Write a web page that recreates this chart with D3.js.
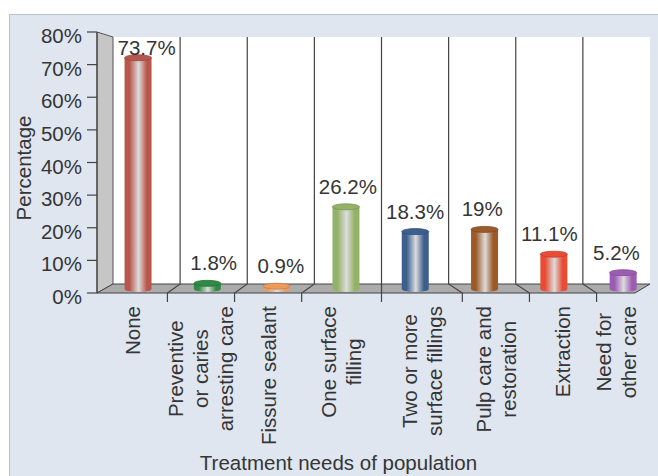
<!DOCTYPE html>
<html><head><meta charset="utf-8">
<script src="https://cdn.jsdelivr.net/npm/d3@7"></script>
<style>
html,body{margin:0;padding:0;background:#fff;}
svg{display:block;font-family:"Liberation Sans",Arial,Helvetica,sans-serif;}
</style></head>
<body><svg id="c" width="658" height="476"></svg>
<script>
const categories = ["None","Preventive or caries arresting care","Fissure sealant","One surface filling","Two or more surface fillings","Pulp care and restoration","Extraction","Need for other care"];
const labelLines = [["None"],["Preventive","or caries","arresting care"],["Fissure sealant"],["One surface","filling"],["Two or more","surface fillings"],["Pulp care and","restoration"],["Extraction"],["Need for","other care"]];
const values = [73.7, 1.8, 0.9, 26.2, 18.3, 19, 11.1, 5.2];
const valueLabels = ["73.7%","1.8%","0.9%","26.2%","18.3%","19%","11.1%","5.2%"];
const colors = ["#b9564c","#2f8a45","#ee9a5a","#93b267","#3d5f8e","#9c5a28","#e84c35","#9c5cb4"];
const yTicks = [0,10,20,30,40,50,60,70,80];
const yTitle = "Percentage";
const xTitle = "Treatment needs of population";

const svg = d3.select("#c");
const W = 658, H = 476;
const textCol = "#353535";

// panel
svg.append("rect").attr("x",9.5).attr("y",14.5).attr("width",W).attr("height",H).attr("fill","#dfe6f0").attr("stroke","#b9c0ca").attr("stroke-width",1);

// geometry
const axisX = 97, frontY = 293, backY = 284, backTop = 37;
const backL = 113, backR = 650, frontR = 635;
const yAxis = d3.scaleLinear().domain([0,80]).range([frontY, 32]);
const yBar = d3.scaleLinear().domain([0,80]).range([289, 38]);
const xBack = d3.scaleBand().domain(categories).range([backL, backR]);
const xBar = d3.scaleBand().domain(categories).range([103.4, 657.8]);

// back wall
svg.append("rect").attr("x",backL).attr("y",backTop).attr("width",backR-backL).attr("height",backY-backTop).attr("fill","#ffffff");
// left wall
svg.append("polygon").attr("points",[[axisX,32],[backL,backTop],[backL,backY],[axisX,frontY]].join(" "))
  .attr("fill","#c6c6c6").attr("stroke","#555").attr("stroke-width",1);
// floor
svg.append("polygon").attr("points",[[axisX,frontY],[backL,backY],[backR,backY],[frontR,frontY]].join(" "))
  .attr("fill","#ababab").attr("stroke","#444").attr("stroke-width",1);

// dividers
const center = xBack(categories[4]);
const bounds = categories.slice(1).map(c => xBack(c));
const frontOf = b => Math.abs(b-center) < 1 ? b : b + (b < center ? -12.7 : 13.7);
const lineGen = d3.line();
svg.append("g").selectAll("path").data(bounds).join("path")
  .attr("d", b => lineGen([[b,backTop],[b,backY],[frontOf(b),frontY],[frontOf(b),302]]))
  .attr("fill","none").attr("stroke","#444").attr("stroke-width",1.2);

// y axis
svg.append("line").attr("x1",axisX).attr("x2",axisX).attr("y1",32).attr("y2",frontY).attr("stroke","#444").attr("stroke-width",1.2);
const yg = svg.append("g");
yg.selectAll("line").data(yTicks).join("line")
  .attr("x1",87).attr("x2",axisX).attr("y1",d=>yAxis(d)).attr("y2",d=>yAxis(d)).attr("stroke","#444").attr("stroke-width",1.2);
yg.selectAll("text").data(yTicks).join("text")
  .attr("x",82).attr("y",d=>yAxis(d)+11).attr("text-anchor","end")
  .attr("font-size",20.5).attr("fill",textCol).text(d=>d+"%");

// bars (cylinders)
const defs = svg.append("defs");
colors.forEach((c,i)=>{
  const g = defs.append("linearGradient").attr("id","g"+i).attr("x1","0%").attr("x2","100%").attr("y1","0%").attr("y2","0%");
  g.append("stop").attr("offset","0%").attr("stop-color",c);
  g.append("stop").attr("offset","18%").attr("stop-color",c);
  g.append("stop").attr("offset","52%").attr("stop-color","#dcdcdc");
  g.append("stop").attr("offset","82%").attr("stop-color",c);
  g.append("stop").attr("offset","100%").attr("stop-color",c);
});
const bw = 27, ry = 3;
const bars = svg.append("g").selectAll("g").data(values).join("g");
bars.append("path").attr("d",(v,i)=>{
  const x0 = xBar(categories[i]) + xBar.bandwidth()/2 - bw/2, x1 = x0 + bw;
  const yt = yBar(v), yb = yBar(0);
  return `M${x0},${yt} L${x0},${yb} A${bw/2},${ry} 0 0 0 ${x1},${yb} L${x1},${yt} Z`;
}).attr("fill",(v,i)=>"url(#g"+i+")");
bars.append("ellipse")
  .attr("cx",(v,i)=>xBar(categories[i]) + xBar.bandwidth()/2)
  .attr("cy",v=>yBar(v)).attr("rx",bw/2).attr("ry",ry)
  .attr("fill",(v,i)=>colors[i]).attr("stroke",(v,i)=>d3.color(colors[i]).darker(0.5)).attr("stroke-width",0.8);

// value labels
svg.append("g").selectAll("text").data(values).join("text")
  .attr("x",(v,i)=>xBack(categories[i]) + xBack.bandwidth()/2)
  .attr("y",v=>Math.max(yBar(v)-13, 55))
  .attr("text-anchor","middle").attr("font-size",20.5).attr("fill",textCol)
  .text((v,i)=>valueLabels[i]);

// category labels (rotated, lines centered)
const allB = [axisX, ...bounds.map(frontOf), frontR];
const fs = 20.5, lh = 25, topY = 306;
labelLines.forEach((lines,i)=>{
  const cx = (allB[i]+allB[i+1])/2;
  const g = svg.append("g").attr("transform",`translate(${cx},${topY}) rotate(-90)`);
  const texts = g.selectAll("text").data(lines).join("text")
    .attr("text-anchor","middle").attr("font-size",fs).attr("fill",textCol)
    .attr("y",(d,j)=>(j-(lines.length-1)/2)*lh + 0.36*fs).text(d=>d);
  let maxW = 0;
  texts.each(function(){ maxW = Math.max(maxW, this.getComputedTextLength()); });
  texts.attr("x",-maxW/2);
});

// axis titles
svg.append("text").attr("transform","translate(31,168) rotate(-90)").attr("text-anchor","middle")
  .attr("font-size",20.5).attr("fill",textCol).text(yTitle);
svg.append("text").attr("x",338.5).attr("y",470).attr("text-anchor","middle")
  .attr("font-size",20.5).attr("fill",textCol).text(xTitle);
</script></body></html>
